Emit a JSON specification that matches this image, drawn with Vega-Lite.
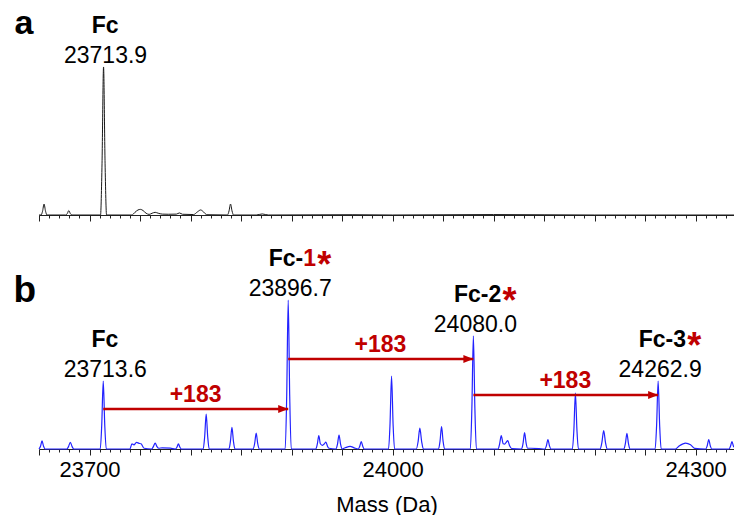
{
  "$schema": "https://vega.github.io/schema/vega-lite/v6.json",
  "background": "white",
  "padding": {"left": 13, "top": 6, "right": 0, "bottom": 0},
  "spacing": 19,
  "config": {"view": {"stroke": null}, "font": "Liberation Sans"},
  "datasets": {
    "spectrum_a": [
      {"mass": 23650, "intensity": 0}, {"mass": 23652, "intensity": 0}, {"mass": 23653.5, "intensity": 2.5}, {"mass": 23655, "intensity": 7.4}, {"mass": 23656.5, "intensity": 2.5}, {"mass": 23658, "intensity": 0},
      {"mass": 23676.5, "intensity": 0}, {"mass": 23678, "intensity": 1}, {"mass": 23679.5, "intensity": 3}, {"mass": 23681, "intensity": 1}, {"mass": 23682.5, "intensity": 0},
      {"mass": 23710.9, "intensity": 0}, {"mass": 23712.4, "intensity": 35}, {"mass": 23713.9, "intensity": 100}, {"mass": 23715.4, "intensity": 35}, {"mass": 23716.9, "intensity": 0},
      {"mass": 23742, "intensity": 0}, {"mass": 23745, "intensity": 1.8}, {"mass": 23748, "intensity": 3.4}, {"mass": 23750.5, "intensity": 3.8}, {"mass": 23753, "intensity": 3.0}, {"mass": 23756, "intensity": 1.2}, {"mass": 23759, "intensity": 0.4},
      {"mass": 23762, "intensity": 1.2}, {"mass": 23765, "intensity": 1.8}, {"mass": 23768, "intensity": 1.2}, {"mass": 23772, "intensity": 0.6}, {"mass": 23778, "intensity": 0.5},
      {"mass": 23786, "intensity": 0.6}, {"mass": 23789, "intensity": 1.4}, {"mass": 23792, "intensity": 0.5}, {"mass": 23803, "intensity": 0.3},
      {"mass": 23807, "intensity": 2.2}, {"mass": 23810, "intensity": 3.4}, {"mass": 23813, "intensity": 2.0}, {"mass": 23816, "intensity": 0.2},
      {"mass": 23836.6, "intensity": 0}, {"mass": 23838.1, "intensity": 2.7}, {"mass": 23839.6, "intensity": 7.4}, {"mass": 23841.1, "intensity": 2.7}, {"mass": 23842.6, "intensity": 0},
      {"mass": 23865, "intensity": 0}, {"mass": 23871, "intensity": 0.7}, {"mass": 23877, "intensity": 0},
      {"mass": 23960, "intensity": 0.2}, {"mass": 24000, "intensity": 0}, {"mass": 24100, "intensity": 0.3}, {"mass": 24200, "intensity": 0}, {"mass": 24338, "intensity": 0}
    ],
    "spectrum_b": [
      {"mass": 23650, "intensity": 0}, {"mass": 23651.5, "intensity": 1.9}, {"mass": 23653, "intensity": 5.4}, {"mass": 23654.5, "intensity": 1.9}, {"mass": 23656, "intensity": 0},
      {"mass": 23677.5, "intensity": 0}, {"mass": 23679.2, "intensity": 1.6}, {"mass": 23681, "intensity": 4.5}, {"mass": 23682.8, "intensity": 1.6}, {"mass": 23684.5, "intensity": 0},
      {"mass": 23710.6, "intensity": 0}, {"mass": 23712.1, "intensity": 16}, {"mass": 23713.6, "intensity": 45.6}, {"mass": 23715.1, "intensity": 16}, {"mass": 23716.6, "intensity": 0},
      {"mass": 23740, "intensity": 0}, {"mass": 23742, "intensity": 3.5}, {"mass": 23744, "intensity": 2.8}, {"mass": 23746.5, "intensity": 4.5}, {"mass": 23749, "intensity": 3.8}, {"mass": 23751, "intensity": 3.5}, {"mass": 23754, "intensity": 0.5},
      {"mass": 23761.5, "intensity": 0}, {"mass": 23763.2, "intensity": 1.6}, {"mass": 23765, "intensity": 4}, {"mass": 23766.8, "intensity": 1.6}, {"mass": 23768.5, "intensity": 0.5},
      {"mass": 23772, "intensity": 0.8}, {"mass": 23780, "intensity": 0.6},
      {"mass": 23785, "intensity": 0}, {"mass": 23786.5, "intensity": 1.2}, {"mass": 23788, "intensity": 3.4}, {"mass": 23789.5, "intensity": 1.2}, {"mass": 23791, "intensity": 0},
      {"mass": 23812.5, "intensity": 0}, {"mass": 23814, "intensity": 8.2}, {"mass": 23815.5, "intensity": 23.5}, {"mass": 23817, "intensity": 8.2}, {"mass": 23818.5, "intensity": 0},
      {"mass": 23838, "intensity": 0}, {"mass": 23839.5, "intensity": 5.1}, {"mass": 23841, "intensity": 14.5}, {"mass": 23842.5, "intensity": 5.1}, {"mass": 23844, "intensity": 0},
      {"mass": 23862, "intensity": 0}, {"mass": 23863.5, "intensity": 3.7}, {"mass": 23865, "intensity": 10.7}, {"mass": 23866.5, "intensity": 3.7}, {"mass": 23868, "intensity": 0},
      {"mass": 23893.7, "intensity": 0}, {"mass": 23895.2, "intensity": 35}, {"mass": 23896.7, "intensity": 100}, {"mass": 23898.2, "intensity": 35}, {"mass": 23899.7, "intensity": 0},
      {"mass": 23924, "intensity": 0}, {"mass": 23925.5, "intensity": 3.2}, {"mass": 23927, "intensity": 9}, {"mass": 23928.5, "intensity": 3.5}, {"mass": 23930.5, "intensity": 2.5}, {"mass": 23932.5, "intensity": 3.5}, {"mass": 23934, "intensity": 4.7}, {"mass": 23935.5, "intensity": 2}, {"mass": 23937, "intensity": 0.5},
      {"mass": 23944, "intensity": 0}, {"mass": 23945.5, "intensity": 3.3}, {"mass": 23947, "intensity": 9.4}, {"mass": 23948.5, "intensity": 3.3}, {"mass": 23950, "intensity": 0},
      {"mass": 23953, "intensity": 0.8}, {"mass": 23958, "intensity": 1.8}, {"mass": 23962, "intensity": 0.8},
      {"mass": 23966, "intensity": 0}, {"mass": 23967.5, "intensity": 1.8}, {"mass": 23969, "intensity": 5}, {"mass": 23970.5, "intensity": 1.8}, {"mass": 23972, "intensity": 0},
      {"mass": 23996, "intensity": 0}, {"mass": 23997.5, "intensity": 17}, {"mass": 23999, "intensity": 49}, {"mass": 24000.5, "intensity": 17}, {"mass": 24002, "intensity": 0},
      {"mass": 24023.5, "intensity": 0}, {"mass": 24025.3, "intensity": 5}, {"mass": 24027, "intensity": 14}, {"mass": 24028.8, "intensity": 5}, {"mass": 24030.5, "intensity": 0},
      {"mass": 24045.5, "intensity": 0}, {"mass": 24047, "intensity": 5.3}, {"mass": 24048.5, "intensity": 15}, {"mass": 24050, "intensity": 5.3}, {"mass": 24051.5, "intensity": 0},
      {"mass": 24077, "intensity": 0}, {"mass": 24078.5, "intensity": 27}, {"mass": 24080, "intensity": 76}, {"mass": 24081.5, "intensity": 27}, {"mass": 24083, "intensity": 0},
      {"mass": 24104.5, "intensity": 0}, {"mass": 24106, "intensity": 3.5}, {"mass": 24107.6, "intensity": 9}, {"mass": 24109.5, "intensity": 3.5}, {"mass": 24111, "intensity": 3.3}, {"mass": 24112.5, "intensity": 4.5}, {"mass": 24114, "intensity": 5.6}, {"mass": 24116, "intensity": 2}, {"mass": 24118, "intensity": 0.2},
      {"mass": 24127.7, "intensity": 0}, {"mass": 24129.2, "intensity": 3.9}, {"mass": 24130.7, "intensity": 11}, {"mass": 24132.2, "intensity": 3.9}, {"mass": 24133.7, "intensity": 0.5},
      {"mass": 24137, "intensity": 0.5}, {"mass": 24145, "intensity": 0.3},
      {"mass": 24150.8, "intensity": 0}, {"mass": 24152.3, "intensity": 2.2}, {"mass": 24153.8, "intensity": 6.3}, {"mass": 24155.3, "intensity": 2.2}, {"mass": 24156.8, "intensity": 0},
      {"mass": 24178, "intensity": 0}, {"mass": 24179.5, "intensity": 13}, {"mass": 24181, "intensity": 37.6}, {"mass": 24182.5, "intensity": 13}, {"mass": 24184, "intensity": 0},
      {"mass": 24205.5, "intensity": 0}, {"mass": 24207.2, "intensity": 4.3}, {"mass": 24209, "intensity": 12.3}, {"mass": 24210.8, "intensity": 4.3}, {"mass": 24212.5, "intensity": 0},
      {"mass": 24229, "intensity": 0}, {"mass": 24230.5, "intensity": 3.7}, {"mass": 24232, "intensity": 10.5}, {"mass": 24233.5, "intensity": 3.7}, {"mass": 24235, "intensity": 0},
      {"mass": 24259.9, "intensity": 0}, {"mass": 24261.4, "intensity": 16}, {"mass": 24262.9, "intensity": 45.6}, {"mass": 24264.4, "intensity": 16}, {"mass": 24265.9, "intensity": 0},
      {"mass": 24280, "intensity": 0}, {"mass": 24284, "intensity": 2.2}, {"mass": 24290, "intensity": 4}, {"mass": 24295, "intensity": 2.8}, {"mass": 24299, "intensity": 0.4},
      {"mass": 24310, "intensity": 0}, {"mass": 24311.5, "intensity": 2.2}, {"mass": 24313, "intensity": 6.3}, {"mass": 24314.5, "intensity": 2.2}, {"mass": 24316, "intensity": 0},
      {"mass": 24333, "intensity": 0}, {"mass": 24334.5, "intensity": 1.8}, {"mass": 24336, "intensity": 5}, {"mass": 24337.5, "intensity": 1.8}, {"mass": 24338, "intensity": 1.2}
    ],
    "labels_a": [
      {"mass": 23713.9, "intensity": 100, "prefix": "Fc", "digit": "", "value": "23713.9"}
    ],
    "labels_b": [
      {"mass": 23713.6, "intensity": 45.6, "prefix": "Fc", "digit": "", "value": "23713.6"},
      {"mass": 23896.7, "intensity": 100, "prefix": "Fc-", "digit": "1", "value": "23896.7"},
      {"mass": 24080.0, "intensity": 76, "prefix": "Fc-", "digit": "2", "value": "24080.0"},
      {"mass": 24262.9, "intensity": 45.6, "prefix": "Fc-", "digit": "3", "value": "24262.9"}
    ],
    "shifts": [
      {"from": 23713.6, "to": 23896.7, "level": 26.8, "mid": 23805, "label": "+183"},
      {"from": 23896.7, "to": 24080.0, "level": 60.4, "mid": 23988, "label": "+183"},
      {"from": 24080.0, "to": 24262.9, "level": 36.2, "mid": 24171, "label": "+183"}
    ]
  },
  "vconcat": [
    {
      "width": 695,
      "height": 209,
      "encoding": {
        "x": {
          "field": "mass", "type": "quantitative",
          "scale": {"domain": [23650, 24338], "nice": false, "zero": false},
          "axis": {
            "title": null, "labels": false, "grid": false,
            "values": [23650,23660,23670,23680,23690,23700,23710,23720,23730,23740,23750,23760,23770,23780,23790,23800,23810,23820,23830,23840,23850,23860,23870,23880,23890,23900,23910,23920,23930,23940,23950,23960,23970,23980,23990,24000,24010,24020,24030,24040,24050,24060,24070,24080,24090,24100,24110,24120,24130,24140,24150,24160,24170,24180,24190,24200,24210,24220,24230,24240,24250,24260,24270,24280,24290,24300,24310,24320,24330],
            "tickSize": {"condition": {"test": "datum.value % 50 === 0", "value": 6}, "value": 3},
            "domainColor": "#222", "tickColor": "#222", "domainWidth": 1, "tickWidth": 1
          }
        },
        "y": {
          "field": "intensity", "type": "quantitative",
          "scale": {"domain": [0, 141.2], "nice": false},
          "axis": {
            "title": "a", "domain": false, "ticks": false, "labels": false, "grid": false,
            "titleAngle": 0, "titleFontSize": 34, "titleFontWeight": "bold", "titleColor": "#000",
            "titleAlign": "left", "titleBaseline": "alphabetic", "titleX": -25, "titleY": 27
          }
        }
      },
      "layer": [
        {"data": {"name": "spectrum_a"}, "mark": {"type": "line", "color": "#1a1a1a", "strokeWidth": 1, "interpolate": "monotone"}},
        {"data": {"name": "labels_a"}, "mark": {"type": "text", "fontSize": 23, "fontWeight": "bold", "align": "right", "baseline": "alphabetic", "dx": 15, "dy": -34, "color": "#000"}, "encoding": {"text": {"field": "prefix"}}},
        {"data": {"name": "labels_a"}, "mark": {"type": "text", "fontSize": 23, "align": "center", "baseline": "alphabetic", "dx": 2, "dy": -4, "color": "#000"}, "encoding": {"text": {"field": "value"}}}
      ]
    },
    {
      "width": 695,
      "height": 208,
      "encoding": {
        "x": {
          "field": "mass", "type": "quantitative",
          "scale": {"domain": [23650, 24338], "nice": false, "zero": false},
          "axis": {
            "title": "Mass (Da)", "grid": false,
            "values": [23650,23660,23670,23680,23690,23700,23710,23720,23730,23740,23750,23760,23770,23780,23790,23800,23810,23820,23830,23840,23850,23860,23870,23880,23890,23900,23910,23920,23930,23940,23950,23960,23970,23980,23990,24000,24010,24020,24030,24040,24050,24060,24070,24080,24090,24100,24110,24120,24130,24140,24150,24160,24170,24180,24190,24200,24210,24220,24230,24240,24250,24260,24270,24280,24290,24300,24310,24320,24330],
            "tickSize": {"condition": {"test": "datum.value % 50 === 0", "value": 6}, "value": 3},
            "labelExpr": "datum.value % 300 === 0 ? format(datum.value, 'd') : ''",
            "labelOverlap": false, "labelFlush": false, "labelBound": false,
            "labelFontSize": 22, "labelColor": "#000", "labelPadding": 4,
            "titleFontSize": 22, "titleFontWeight": "normal", "titleColor": "#000", "titlePadding": 14,
            "domainColor": "#222", "tickColor": "#222", "domainWidth": 1, "tickWidth": 1
          }
        },
        "y": {
          "field": "intensity", "type": "quantitative",
          "scale": {"domain": [0, 139.6], "nice": false},
          "axis": {
            "title": "b", "domain": false, "ticks": false, "labels": false, "grid": false,
            "titleAngle": 0, "titleFontSize": 37, "titleFontWeight": "bold", "titleColor": "#000",
            "titleAlign": "left", "titleBaseline": "alphabetic", "titleX": -26, "titleY": 60
          }
        }
      },
      "layer": [
        {"data": {"name": "spectrum_b"}, "mark": {"type": "line", "color": "#2222ff", "strokeWidth": 1.2, "interpolate": "monotone"}},
        {"data": {"name": "shifts"}, "mark": {"type": "rule", "color": "#c00000", "strokeWidth": 2.6},
         "encoding": {"x": {"field": "from", "type": "quantitative"}, "x2": {"field": "to"}, "y": {"field": "level", "type": "quantitative"}}},
        {"data": {"name": "shifts"}, "mark": {"type": "point", "shape": "M0,0L-2,-0.8L-2,0.8Z", "size": 100, "filled": true, "color": "#c00000", "opacity": 1, "strokeWidth": 0},
         "encoding": {"x": {"field": "to", "type": "quantitative"}, "y": {"field": "level", "type": "quantitative"}}},
        {"data": {"name": "shifts"}, "mark": {"type": "text", "fontSize": 23, "fontWeight": "bold", "color": "#c00000", "align": "center", "baseline": "alphabetic", "dy": -7},
         "encoding": {"x": {"field": "mid", "type": "quantitative"}, "y": {"field": "level", "type": "quantitative"}, "text": {"field": "label"}}},
        {"data": {"name": "labels_b"}, "mark": {"type": "text", "fontSize": 23, "fontWeight": "bold", "align": "right", "baseline": "alphabetic", "dx": 15, "dy": -34, "color": "#000"}, "encoding": {"text": {"field": "prefix"}}},
        {"data": {"name": "labels_b"}, "mark": {"type": "text", "fontSize": 23, "fontWeight": "bold", "align": "left", "baseline": "alphabetic", "dx": 15, "dy": -34},
         "encoding": {"text": {"field": "digit"}, "color": {"field": "digit", "type": "nominal", "scale": {"domain": ["", "1", "2", "3"], "range": ["#000000", "#c00000", "#000000", "#000000"]}, "legend": null}}},
        {"data": {"name": "labels_b"}, "transform": [{"filter": "datum.digit != ''"}], "mark": {"type": "text", "text": "*", "fontSize": 36, "fontWeight": "bold", "align": "left", "baseline": "alphabetic", "dx": 29, "dy": -23, "color": "#c00000"}},
        {"data": {"name": "labels_b"}, "mark": {"type": "text", "fontSize": 23, "align": "center", "baseline": "alphabetic", "dx": 2, "dy": -4, "color": "#000"}, "encoding": {"text": {"field": "value"}}}
      ]
    }
  ]
}
